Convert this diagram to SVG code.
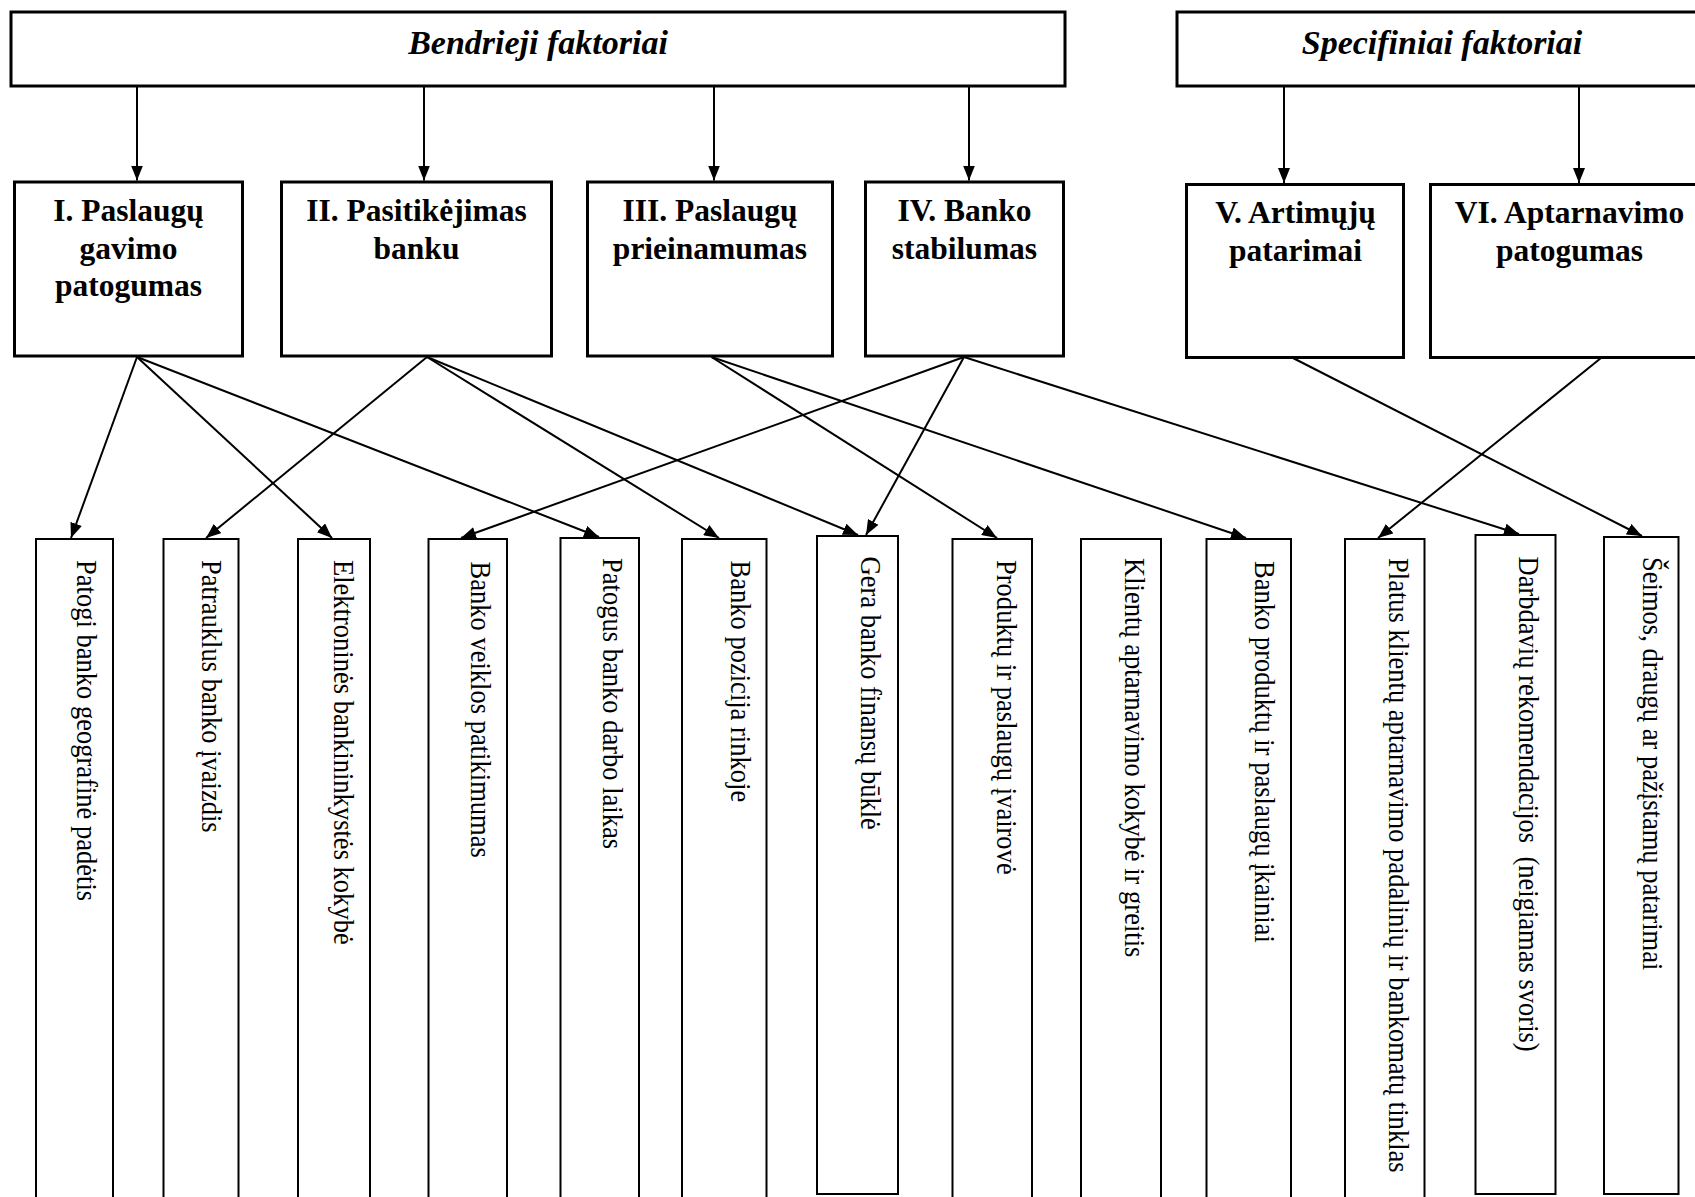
<svg xmlns="http://www.w3.org/2000/svg" width="1695" height="1197" viewBox="0 0 1695 1197">
<style>
.top{fill:#fff;stroke:#000;stroke-width:3}
.leaf{fill:#fff;stroke:#000;stroke-width:2}
.hd{font-family:"Liberation Serif","Times New Roman",serif;font-weight:bold;font-style:italic;font-size:34px;text-anchor:middle;fill:#000}
.fx{font-family:"Liberation Serif","Times New Roman",serif;font-weight:bold;font-size:31.5px;text-anchor:middle;fill:#000}
.v{font-family:"Liberation Serif","Times New Roman",serif;font-size:30px;fill:#000;white-space:pre}
.c line{stroke:#000;stroke-width:2;marker-end:url(#ah)}
</style>
<defs>
<marker id="ah" markerWidth="15" markerHeight="12" refX="15" refY="6" orient="auto" markerUnits="userSpaceOnUse">
<path d="M0,0 L15,6 L0,12 z" fill="#000"/>
</marker>
</defs>
<rect width="1695" height="1197" fill="#fff"/>

<g id="bendrieji"><rect class="top" x="11" y="12" width="1054" height="74"/><text class="hd" x="538" y="54">Bendrieji faktoriai</text></g>
<g id="specifiniai"><rect class="top" x="1177" y="12" width="540" height="74"/><text class="hd" x="1442" y="54">Specifiniai faktoriai</text></g>

<g id="f1"><rect class="top" x="14.5" y="182" width="228" height="174"/><text class="fx" x="128.5" y="221">I. Paslaugų</text><text class="fx" x="128.5" y="258.5">gavimo</text><text class="fx" x="128.5" y="296">patogumas</text></g>
<g id="f2"><rect class="top" x="281.5" y="182" width="270" height="174"/><text class="fx" x="416.5" y="221">II. Pasitikėjimas</text><text class="fx" x="416.5" y="258.5">banku</text></g>
<g id="f3"><rect class="top" x="587.5" y="182" width="245" height="174"/><text class="fx" x="710" y="221">III. Paslaugų</text><text class="fx" x="710" y="258.5">prieinamumas</text></g>
<g id="f4"><rect class="top" x="865.5" y="182" width="198" height="174"/><text class="fx" x="964.5" y="221">IV. Banko</text><text class="fx" x="964.5" y="258.5">stabilumas</text></g>
<g id="f5"><rect class="top" x="1186.5" y="184.5" width="217" height="173"/><text class="fx" x="1295.5" y="223">V. Artimųjų</text><text class="fx" x="1295.5" y="260.5">patarimai</text></g>
<g id="f6"><rect class="top" x="1430.5" y="184.5" width="300" height="173"/><text class="fx" x="1569.5" y="223">VI. Aptarnavimo</text><text class="fx" x="1569.5" y="260.5">patogumas</text></g>

<g id="n1"><rect class="leaf" x="36" y="539" width="77" height="680"/><text class="v" transform="translate(77,560) rotate(90) scale(0.885,1)">Patogi banko geografinė padėtis</text></g>
<g id="n2"><rect class="leaf" x="163.5" y="539" width="75" height="680"/><text class="v" transform="translate(202,560) rotate(90) scale(0.885,1)">Patrauklus banko įvaizdis</text></g>
<g id="n3"><rect class="leaf" x="298" y="539" width="72" height="680"/><text class="v" transform="translate(334,560) rotate(90) scale(0.885,1)">Elektroninės bankininkystės kokybė</text></g>
<g id="n4"><rect class="leaf" x="428.5" y="539" width="78.5" height="680"/><text class="v" transform="translate(471,561.5) rotate(90) scale(0.885,1)">Banko veiklos patikimumas</text></g>
<g id="n5"><rect class="leaf" x="560.5" y="538" width="78.5" height="680"/><text class="v" transform="translate(602.5,558) rotate(90) scale(0.885,1)">Patogus banko darbo laikas</text></g>
<g id="n6"><rect class="leaf" x="682" y="539" width="84.5" height="680"/><text class="v" transform="translate(731,560.5) rotate(90) scale(0.885,1)">Banko pozicija rinkoje</text></g>
<g id="n7"><rect class="leaf" x="817" y="536" width="81" height="658"/><text class="v" transform="translate(861,556.5) rotate(90) scale(0.885,1)">Gera banko finansų būklė</text></g>
<g id="n8"><rect class="leaf" x="952.5" y="539" width="79.5" height="680"/><text class="v" transform="translate(997,560) rotate(90) scale(0.885,1)">Produktų ir paslaugų įvairovė</text></g>
<g id="n9"><rect class="leaf" x="1081" y="539" width="80" height="680"/><text class="v" transform="translate(1124.5,558) rotate(90) scale(0.885,1)">Klientų aptarnavimo kokybė ir greitis</text></g>
<g id="n10"><rect class="leaf" x="1206.5" y="539" width="84.5" height="680"/><text class="v" transform="translate(1254.5,561) rotate(90) scale(0.885,1)">Banko produktų ir paslaugų įkainiai</text></g>
<g id="n11"><rect class="leaf" x="1345" y="539" width="79.5" height="680"/><text class="v" transform="translate(1389,558) rotate(90) scale(0.885,1)">Platus klientų aptarnavimo padalinių ir bankomatų tinklas</text></g>
<g id="n12"><rect class="leaf" x="1475.5" y="535" width="80" height="659"/><text class="v" transform="translate(1519,556.5) rotate(90) scale(0.885,1)">Darbdavių rekomendacijos  (neigiamas svoris)</text></g>
<g id="n13"><rect class="leaf" x="1604" y="537" width="74.5" height="657"/><text class="v" transform="translate(1643,557) rotate(90) scale(0.885,1)">Šeimos, draugų ar pažįstamų patarimai</text></g>

<g id="connectors" class="c">
<line x1="137" y1="87" x2="137" y2="180.5"/>
<line x1="424" y1="87" x2="424" y2="180.5"/>
<line x1="714" y1="87" x2="714" y2="180.5"/>
<line x1="969" y1="87" x2="969" y2="180.5"/>
<line x1="1284" y1="87" x2="1284" y2="183"/>
<line x1="1579" y1="87" x2="1579" y2="183"/>
<line x1="137" y1="357" x2="71" y2="538"/>
<line x1="137" y1="357" x2="332" y2="538"/>
<line x1="137" y1="357" x2="599" y2="537"/>
<line x1="427" y1="357" x2="206" y2="538"/>
<line x1="427" y1="357" x2="719" y2="538"/>
<line x1="427" y1="357" x2="858" y2="535"/>
<line x1="711.5" y1="357" x2="997" y2="538"/>
<line x1="711.5" y1="357" x2="1246" y2="538"/>
<line x1="964" y1="357" x2="461" y2="538"/>
<line x1="964" y1="357" x2="866" y2="535"/>
<line x1="964" y1="357" x2="1519" y2="534"/>
<line x1="1293" y1="358" x2="1642" y2="536"/>
<line x1="1601" y1="358" x2="1378" y2="538"/>
</g>
</svg>
